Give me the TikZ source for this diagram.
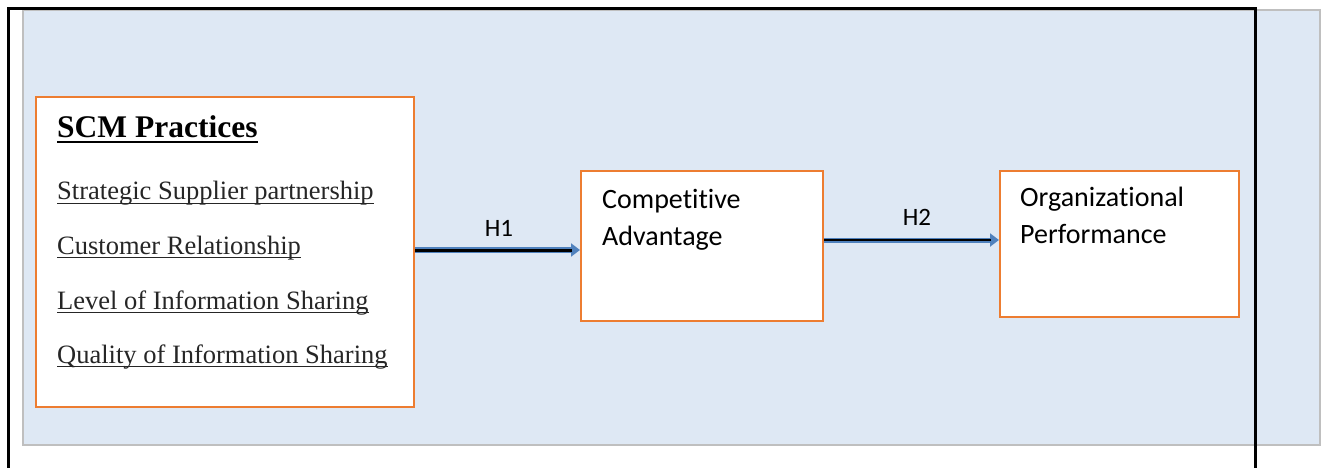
\documentclass[tikz,border=0pt]{standalone}
\usepackage{fontspec}
\setmainfont{Liberation Serif}
\newfontfamily\calib[Ligatures={NoCommon,NoRare,NoContextual}]{Carlito}
\usetikzlibrary{arrows.meta,calc}
\definecolor{panelfill}{HTML}{DEE8F4}
\definecolor{panelgray}{HTML}{BFBFBF}
\definecolor{boxorange}{HTML}{ED7D31}
\definecolor{arrowblue}{HTML}{4F81BD}
\definecolor{itemgray}{HTML}{262626}
\tikzset{
  box/.style={draw=boxorange, line width=2pt, fill=white, inner sep=0pt},
  item/.style={anchor=base west, inner sep=0pt, text=itemgray, font=\fontsize{26.5}{30}\selectfont},
  ttl/.style={anchor=base west, inner sep=0pt, font=\fontsize{31.5}{36}\selectfont\bfseries},
  ctext/.style={anchor=base west, inner sep=0pt, font=\calib\fontsize{28}{32}\selectfont},
  hlab/.style={anchor=base, inner sep=0pt, font=\calib\fontsize{25}{30}\selectfont},
  outerarrow/.style={draw=arrowblue, -{Triangle[length=9pt,width=13pt]}},
}
\begin{document}
\begin{tikzpicture}[x=1pt,y=-1pt]
\useasboundingbox (0,0) rectangle (1323,468);
% panel
\draw[fill=panelfill, draw=panelgray, line width=2pt] (23,10) rectangle (1320,445);
% black frame
\draw[line width=3pt] (8,470) -- (8,9) -- (1255,9) -- (1255,470);
% boxes
\node[box, minimum width=378pt, minimum height=310pt, anchor=north west] (scm) at (35,96) {};
\node[box, minimum width=242pt, minimum height=150pt, anchor=north west] (ca) at (580,170) {};
\node[box, minimum width=239pt, minimum height=146pt, anchor=north west] (org) at (999,170) {};
% SCM texts
\node[ttl] (t0) at (57,138) {SCM Practices};
\draw[line width=2.6pt] ($(t0.base west)+(0,4)$) -- ($(t0.base east)+(0,4)$);
\node[item] (t1) at (57,200) {Strategic Supplier partnership};
\draw[itemgray, line width=1.4pt] ($(t1.base west)+(0,3.5)$) -- ($(t1.base east)+(0,3.5)$);
\node[item] (t2) at (57,254) {Customer Relationship};
\draw[itemgray, line width=1.4pt] ($(t2.base west)+(0,3.5)$) -- ($(t2.base east)+(0,3.5)$);
\node[item] (t3) at (57,309) {Level of Information Sharing};
\draw[itemgray, line width=1.4pt] ($(t3.base west)+(0,3.5)$) -- ($(t3.base east)+(0,3.5)$);
\node[item] (t4) at (57,363) {Quality of Information Sharing};
\draw[itemgray, line width=1.4pt] ($(t4.base west)+(0,3.5)$) -- ($(t4.base east)+(0,3.5)$);
% CA text
\node[ctext] (c1) at (602,208) {Competitive};
\node[ctext] (c2) at (602,245) {Advantage};
% Org text
\node[ctext] (o1) at (1020,207) {Organizational};
\node[ctext] (o2) at (1020,243) {Performance};
% arrows
\coordinate (h1s) at ($(scm.east)+(0,-2)$);
\coordinate (h1e) at (h1s -| ca.west);
\draw[outerarrow, line width=6pt] (h1s) -- (h1e);
\draw[line width=3pt, shorten >=8pt] (h1s) -- (h1e);
\coordinate (h2s) at ($(ca.east)+(0,-6)$);
\coordinate (h2e) at (h2s -| org.west);
\draw[outerarrow, line width=5pt] (h2s) -- (h2e);
\draw[line width=2.2pt, shorten >=8pt] (h2s) -- (h2e);
% labels
\node[hlab] (l1) at (499,236) {H1};
\node[hlab] (l2) at (917,225) {H2};
\end{tikzpicture}
\end{document}
